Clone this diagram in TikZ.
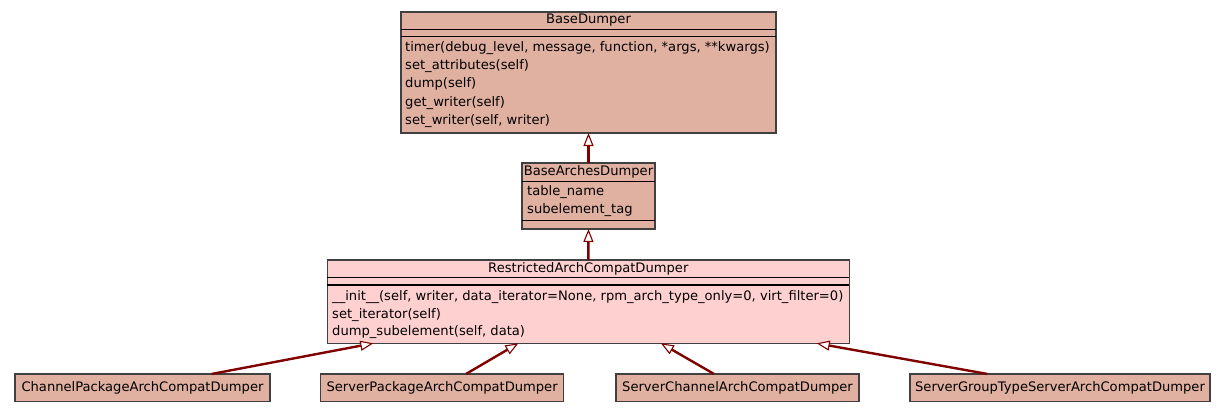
\documentclass[tikz,border=0pt]{standalone}
\usepackage{fontspec}
\setmainfont{DejaVu Sans}
\usetikzlibrary{arrows.meta}
\definecolor{clsfill}{HTML}{E0B0A0}
\definecolor{hifill}{HTML}{FFD0D0}
\definecolor{clsline}{HTML}{404040}
\definecolor{inherit}{HTML}{800000}
\begin{document}
\begin{tikzpicture}[x=1pt,y=-1pt,
  box/.style={draw=clsline, line width=1.1pt, fill=clsfill, inner sep=0pt, outer sep=0pt},
  hibox/.style={box, fill=hifill},
  sep/.style={draw=black, line width=1.1pt},
  umlfont/.style={font=\fontsize{13.1}{15}\selectfont},
  lbl/.style={umlfont, inner sep=0pt, anchor=base west},
  ttl/.style={umlfont, inner sep=0pt, anchor=base},
  gen/.style={draw=inherit, line width=2.4pt,
    -{Triangle[fill=white, length=13pt, width=10pt, line width=1.1pt]}}
]
\useasboundingbox (0,0) rectangle (1225,413);

% BaseDumper
\node[box, minimum width=375pt, minimum height=121pt] (base) at (588.5,72.5) {};
\draw[sep] (base.west |- 0,29.5) -- (base.east |- 0,29.5);
\draw[sep] (base.west |- 0,36.5) -- (base.east |- 0,36.5);
\node[ttl] (baset) at (588.5,23.5) {BaseDumper};
\node[lbl] (basem1) at (405,51.5) {timer(debug\_level, message, function, *args, **kwargs)};
\node[lbl] (basem2) at (405,69.7) {set\_attributes(self)};
\node[lbl] (basem3) at (405,87.9) {dump(self)};
\node[lbl] (basem4) at (405,106.1) {get\_writer(self)};
\node[lbl] (basem5) at (405,124.3) {set\_writer(self, writer)};

% BaseArchesDumper
\node[box, minimum width=133pt, minimum height=66pt] (arches) at (588.5,196) {};
\draw[sep] (arches.west |- 0,181.7) -- (arches.east |- 0,181.7);
\draw[sep] (arches.west |- 0,220.7) -- (arches.east |- 0,220.7);
\node[ttl] (archest) at (588.5,175.5) {BaseArchesDumper};
\node[lbl] (archesa1) at (527,195.5) {table\_name};
\node[lbl] (archesa2) at (527,213.5) {subelement\_tag};

% RestrictedArchCompatDumper
\node[hibox, minimum width=522pt, minimum height=83.3pt] (restr) at (588.3,301.65) {};
\draw[sep] (restr.west |- 0,277.3) -- (restr.east |- 0,277.3);
\draw[sep] (restr.west |- 0,285) -- (restr.east |- 0,285);
\node[ttl] (restrt) at (588.3,272) {RestrictedArchCompatDumper};
\node[lbl] (restrm1) at (332,300.8) {\_\_init\_\_(self, writer, data\_iterator=None, rpm\_arch\_type\_only=0, virt\_filter=0)};
\node[lbl] (restrm2) at (332,318.3) {set\_iterator(self)};
\node[lbl] (restrm3) at (332,335.8) {dump\_subelement(self, data)};

% Derived dumpers
\node[box, minimum width=255pt, minimum height=27.7pt] (chan) at (142.5,387.8) {};
\node[ttl] at (142.5,391.7) {ChannelPackageArchCompatDumper};
\node[box, minimum width=242.8pt, minimum height=27.7pt] (spkg) at (442.1,387.8) {};
\node[ttl] at (442.1,391.7) {ServerPackageArchCompatDumper};
\node[box, minimum width=243pt, minimum height=27.7pt] (schan) at (737.5,387.8) {};
\node[ttl] at (737.5,391.7) {ServerChannelArchCompatDumper};
\node[box, minimum width=300pt, minimum height=27.7pt] (sgrp) at (1060,387.8) {};
\node[ttl] at (1060,391.7) {ServerGroupTypeServerArchCompatDumper};

% Generalisation arrows
\draw[gen] (arches.north) -- (base.south);
\draw[gen] (restr.north) -- (arches.south);
\draw[gen] ([xshift=69.2pt]chan.north) -- ([xshift=-215pt]restr.south);
\draw[gen] ([xshift=23.9pt]spkg.north) -- ([xshift=-70pt]restr.south);
\draw[gen] ([xshift=-23.5pt]schan.north) -- ([xshift=72.6pt]restr.south);
\draw[gen] ([xshift=-72.7pt]sgrp.north) -- ([xshift=228.4pt]restr.south);
\end{tikzpicture}
\end{document}
